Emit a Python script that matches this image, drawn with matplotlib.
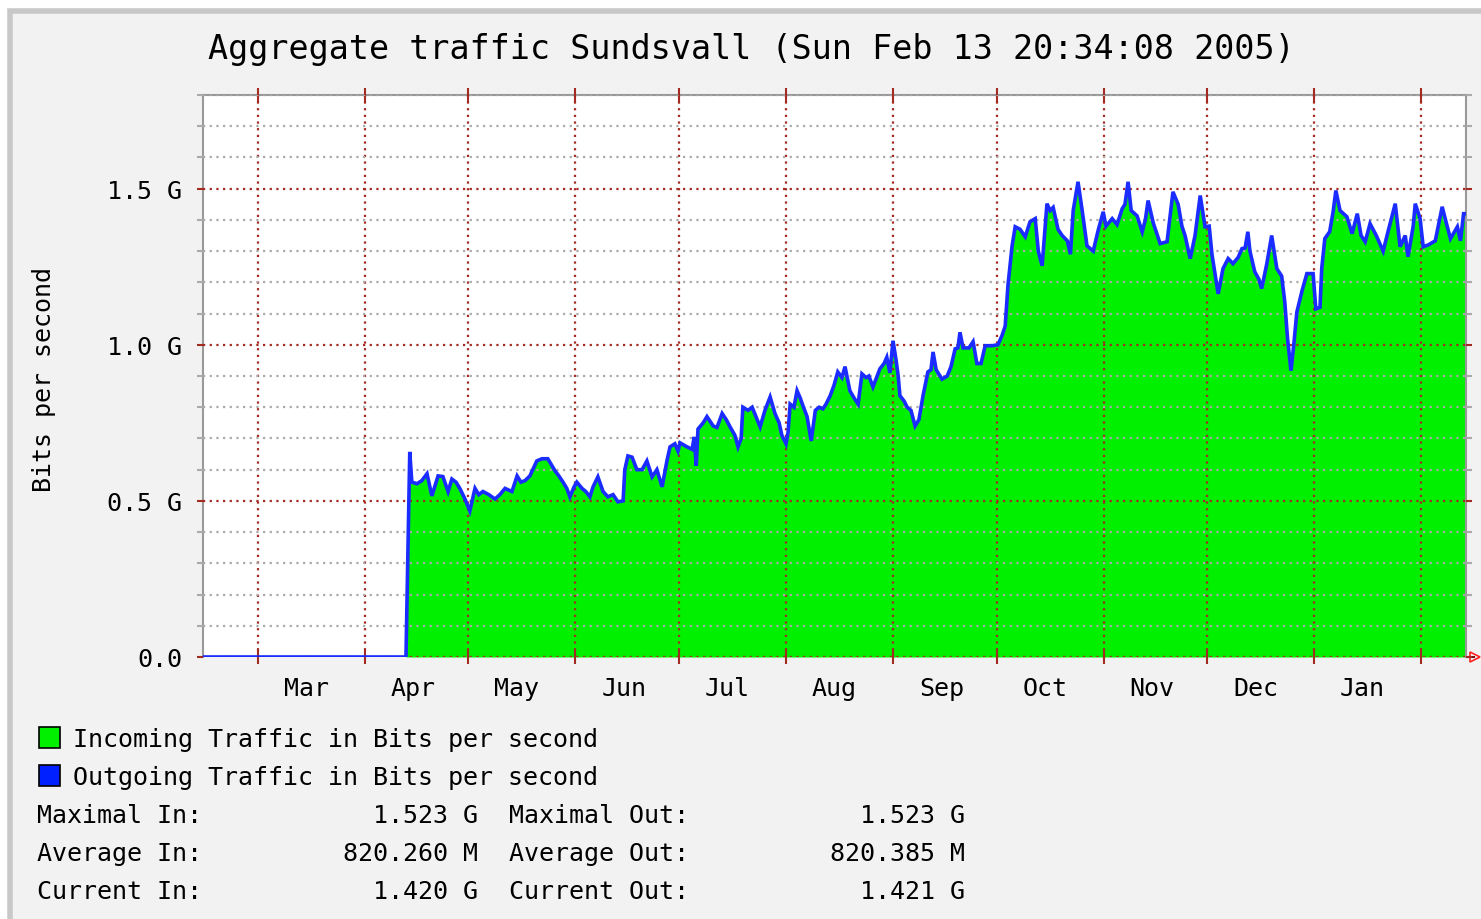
import numpy as np
import pandas as pd
import matplotlib
matplotlib.use("Agg")
import matplotlib.pyplot as plt
import matplotlib.dates as mdates
from matplotlib.patches import Rectangle
from matplotlib.ticker import FixedLocator, MultipleLocator, NullFormatter

# dias desde 2004-03-01, trafico en Gbit/s
dias = [-16.0, 42.9, 43.5, 44.0, 44.6, 46.1, 47.5, 49.0, 50.4, 52.2, 53.6, 55.1, 56.2, 57.4,
        58.5, 60.0, 61.4, 62.9, 64.0, 65.2, 66.9, 68.7, 70.1, 71.6, 73.6, 75.1, 76.2, 77.4,
        78.8, 80.8, 82.3, 84.0, 86.1, 87.2, 88.4, 89.5, 90.4, 91.6, 92.4, 93.9, 95.0, 96.2,
        97.1, 98.5, 100.0, 101.4, 102.9, 104.3, 105.8, 106.3, 107.2, 108.4, 109.8, 111.3,
        112.7, 114.2, 115.6, 117.1, 118.5, 119.4, 120.8, 121.7, 122.3, 124.0, 125.8, 126.4,
        127.0, 127.5, 129.0, 130.1, 131.9, 133.0, 134.5, 135.7, 136.8, 138.2, 139.1, 140.0,
        140.5, 142.0, 143.2, 144.3, 145.5, 146.9, 148.4, 149.8, 151.0, 151.8, 153.0, 153.6,
        154.2, 155.3, 156.2, 157.1, 157.9, 159.1, 160.3, 161.5, 162.6, 163.7, 164.6, 165.8,
        166.9, 168.0, 169.2, 170.1, 171.5, 172.7, 173.9, 175.0, 176.2, 177.0, 178.2, 179.4,
        180.2, 181.4, 182.2, 183.1, 184.0, 184.9, 185.5, 186.0, 187.2, 188.1, 189.2, 190.4,
        191.5, 192.7, 194.1, 195.0, 195.6, 196.5, 198.2, 199.7, 200.8, 202.0, 202.8, 203.4,
        204.3, 206.0, 207.2, 208.3, 209.5, 210.7, 212.7, 214.4, 215.6, 216.5, 217.3, 218.5,
        219.4, 220.8, 222.3, 223.7, 225.2, 226.1, 227.2, 228.6, 229.5, 230.4, 231.8, 233.0,
        234.5, 235.4, 236.2, 237.6, 238.8, 240.2, 242.0, 243.4, 244.9, 245.7, 247.5, 248.9,
        250.4, 251.2, 252.1, 253.0, 254.7, 256.2, 257.1, 257.9, 259.4, 261.4, 263.4, 265.1,
        266.6, 267.7, 268.6, 270.1, 271.5, 273.0, 274.4, 275.6, 276.4, 278.2, 279.6, 281.1,
        282.5, 284.0, 285.1, 286.0, 286.8, 287.4, 288.8, 290.0, 290.8, 292.3, 293.7, 295.2,
        296.6, 297.5, 298.3, 299.3, 300.1, 301.0, 302.5, 303.9, 305.7, 306.5, 307.7, 308.2,
        309.1, 310.5, 311.5, 312.3, 313.5, 315.5, 317.0, 318.5, 319.6, 320.8, 322.2, 324.0,
        326.0, 327.4, 329.5, 330.9, 332.4, 333.2, 334.7, 335.3, 336.7, 337.6, 339.1, 341.1,
        343.1, 344.3, 345.5, 347.5, 348.4, 349.3, 350.0]

trafico = [0.0, 0.0, 0.36, 0.657, 0.56, 0.555, 0.565, 0.587, 0.516, 0.58, 0.578, 0.53, 0.57, 0.56,
           0.54, 0.506, 0.468, 0.54, 0.52, 0.53, 0.52, 0.506, 0.52, 0.54, 0.53, 0.58, 0.56, 0.565,
           0.58, 0.628, 0.635, 0.635, 0.596, 0.58, 0.56, 0.54, 0.513, 0.545, 0.56, 0.54, 0.53, 0.513,
           0.545, 0.577, 0.53, 0.513, 0.52, 0.497, 0.5, 0.6, 0.644, 0.64, 0.6, 0.6,
           0.628, 0.577, 0.6, 0.545, 0.628, 0.673, 0.683, 0.66, 0.686, 0.675, 0.665, 0.705,
           0.612, 0.73, 0.75, 0.77, 0.74, 0.735, 0.78, 0.76, 0.737, 0.71, 0.673, 0.7,
           0.8, 0.79, 0.8, 0.77, 0.737, 0.79, 0.833, 0.78, 0.75, 0.71, 0.683, 0.72,
           0.81, 0.8, 0.853, 0.83, 0.805, 0.77, 0.692, 0.79, 0.8, 0.795, 0.81, 0.837,
           0.87, 0.913, 0.895, 0.93, 0.853, 0.83, 0.81, 0.907, 0.895, 0.9, 0.865, 0.9,
           0.923, 0.94, 0.96, 0.91, 1.013, 0.95, 0.9, 0.837, 0.82, 0.8, 0.79, 0.74,
           0.76, 0.837, 0.913, 0.92, 0.977, 0.92, 0.89, 0.9, 0.93, 0.987, 0.99, 1.04,
           0.99, 0.99, 1.01, 0.94, 0.94, 0.997, 0.997, 1.0, 1.03, 1.06, 1.19, 1.317,
           1.378, 1.37, 1.346, 1.394, 1.404, 1.3, 1.253, 1.452, 1.43, 1.44, 1.37, 1.35,
           1.333, 1.29, 1.43, 1.522, 1.43, 1.317, 1.3, 1.365, 1.426, 1.38, 1.404, 1.385,
           1.436, 1.45, 1.522, 1.43, 1.413, 1.362, 1.40, 1.462, 1.39, 1.324, 1.33, 1.49,
           1.45, 1.38, 1.35, 1.276, 1.35, 1.478, 1.378, 1.38, 1.29, 1.163, 1.244, 1.276,
           1.26, 1.28, 1.308, 1.31, 1.362, 1.30, 1.234, 1.21, 1.18, 1.26, 1.35, 1.244,
           1.22, 1.137, 1.02, 0.917, 1.0, 1.105, 1.173, 1.228, 1.228, 1.115, 1.12, 1.244,
           1.34, 1.362, 1.426, 1.494, 1.43, 1.41, 1.356, 1.42, 1.35, 1.33, 1.388, 1.35,
           1.3, 1.362, 1.452, 1.314, 1.35, 1.282, 1.38, 1.452, 1.404, 1.314, 1.32, 1.333,
           1.442, 1.39, 1.34, 1.378, 1.333, 1.42, 1.42]

y_ticks = [0.0, 0.5, 1.0, 1.5]
y_labels = ["0.0", "0.5 G", "1.0 G", "1.5 G"]
meses_etiqueta = [3, 4, 5, 6, 7, 8, 9, 10, 11, 12, 1]

titulo = "Aggregate traffic Sundsvall (Sun Feb 13 20:34:08 2005)"
leyenda = ["Incoming Traffic in Bits per second", "Outgoing Traffic in Bits per second"]
stats_in = [("Maximal In:", "1.523 G"), ("Average In:", "820.260 M"), ("Current In:", "1.420 G")]
stats_out = [("Maximal Out:", "1.523 G"), ("Average Out:", "820.385 M"), ("Current Out:", "1.421 G")]

fechas = pd.Timestamp("2004-03-01") + pd.to_timedelta(dias, unit="D")

W, H = 1481, 920
plt.rcParams["font.family"] = ["DejaVu Sans Mono"]
fig = plt.figure(figsize=(W / 100, H / 100), dpi=100, facecolor="white")

# marco gris de fondo
fig.patches.append(Rectangle((10 / W, -0.1), 1.2, 1.1 - 11.5 / H, transform=fig.transFigure,
                             facecolor="#f2f2f2", edgecolor="#c8c8c8", lw=4, zorder=-5))

ax = fig.add_axes([203 / W, 1 - 658 / H, (1466 - 203) / W, (658 - 96) / H])
ax.set_facecolor("white")

rojo = "#a32b22"
gris = "#aaaaaa"

ax.fill_between(fechas, trafico, color="#00f000", lw=0, zorder=2)
ax.plot(fechas, trafico, color="#1a2cff", lw=2.6, zorder=3, solid_joinstyle="miter")

ax.set_xlim(pd.Timestamp("2004-03-01") - pd.Timedelta(days=15.9), pd.Timestamp("2004-03-01") + pd.Timedelta(days=350.0))
ax.set_ylim(0, 1.8)

ax.yaxis.set_major_locator(FixedLocator(y_ticks))
ax.set_yticklabels(y_labels)
ax.yaxis.set_minor_locator(MultipleLocator(0.1))

ax.xaxis.set_major_locator(mdates.MonthLocator())
ax.xaxis.set_major_formatter(NullFormatter())
ax.xaxis.set_minor_locator(mdates.MonthLocator(bymonth=meses_etiqueta, bymonthday=15))
ax.xaxis.set_minor_formatter(mdates.DateFormatter("%b"))

ax.grid(which="major", axis="both", color=rojo, linestyle=(0, (1, 2)), lw=1.6, zorder=4)
ax.grid(which="minor", axis="y", color=gris, linestyle=(0, (1, 2)), lw=1.6, zorder=1)
ax.set_axisbelow(False)

ax.tick_params(axis="y", which="major", direction="out", length=4, width=1.5, color=rojo,
               right=True, labelsize=18, pad=11)
ax.tick_params(axis="y", which="minor", direction="out", length=4, width=1.5, color=gris, right=True)
ax.tick_params(axis="x", which="major", direction="inout", length=10, width=1.5, color=rojo, top=True)
ax.tick_params(axis="x", which="minor", length=0, labelsize=18, pad=14)

for lado in ["left", "top", "right"]:
    ax.spines[lado].set_color("#999999")
    ax.spines[lado].set_linewidth(1.5)
ax.spines["bottom"].set_visible(False)

# flecha del eje x
ax.plot([1.0, 1.006], [0, 0], transform=ax.transAxes, color="#7a1010", lw=1.5, clip_on=False)
ax.plot([1.007], [0], transform=ax.transAxes, marker=">", ms=7, mfc="none", mec="#ff2020",
        mew=1.2, clip_on=False)

fig.text(208 / W, 1 - 50 / H, titulo, fontsize=24, ha="left", va="center")
fig.text(44 / W, 1 - 380 / H, "Bits per second", fontsize=18, rotation=90, ha="center", va="center")

# leyenda
for i, (txt, c) in enumerate(zip(leyenda, ["#00f000", "#0020ff"])):
    yc = 738 + 38 * i
    fig.patches.append(Rectangle((39 / W, 1 - (yc + 11) / H), 21 / W, 21 / H, transform=fig.transFigure,
                                 facecolor=c, edgecolor="black", lw=1.2))
    fig.text(73 / W, 1 - (yc + 2) / H, txt, fontsize=18, ha="left", va="center")

for i in range(3):
    yc = 816 + 38 * i
    fig.text(37 / W, 1 - yc / H, stats_in[i][0], fontsize=18, ha="left", va="center")
    fig.text(478 / W, 1 - yc / H, stats_in[i][1], fontsize=18, ha="right", va="center")
    fig.text(509 / W, 1 - yc / H, stats_out[i][0], fontsize=18, ha="left", va="center")
    fig.text(965 / W, 1 - yc / H, stats_out[i][1], fontsize=18, ha="right", va="center")

fig.savefig("out.png", dpi=100, facecolor=fig.get_facecolor())
